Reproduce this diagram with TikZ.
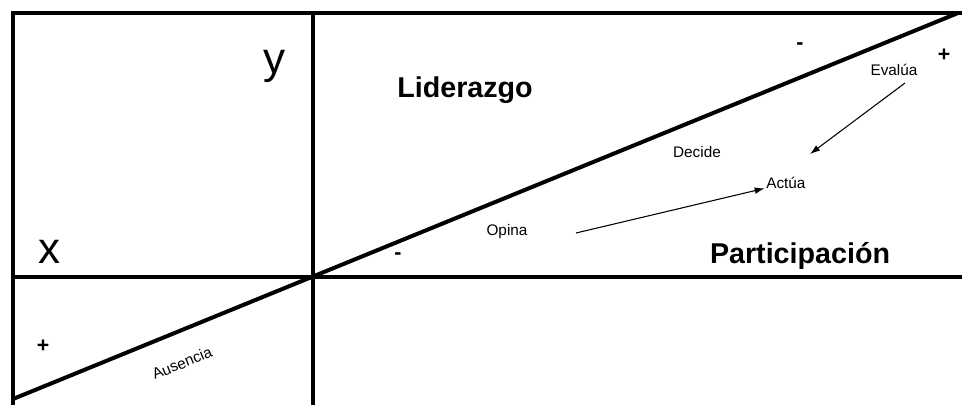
\documentclass[tikz,border=0pt]{standalone}
\usepackage{fontspec}
\setmainfont{Liberation Sans}
\usetikzlibrary{arrows.meta}
\begin{document}
\begin{tikzpicture}[x = 0.75pt, y = -0.75pt,
		axis/.style = {line width = 3pt},
		flow/.style = {line width = 0.8pt, -{Latex[length = 7.5pt, width = 5pt]}},
		small/.style = {inner sep = 0pt, font = \fontsize{11.5}{13}\selectfont},
		title/.style = {inner sep = 0pt, anchor = base, font = \fontsize{21.5}{25}\selectfont\bfseries},
		sign/.style = {inner sep = 0pt, font = \fontsize{16}{18}\selectfont\bfseries},
		letter/.style = {inner sep = 0pt, anchor = base, font = \fontsize{33}{38}\selectfont}]
		\useasboundingbox (0,0) rectangle (962,405);
		\draw [axis] (13,405) -- (13,13) -- (962,13);
		\draw [axis] (313,13) -- (313,405);
		\draw [axis] (13,277) -- (962,277);
		\draw [axis] (13,399) -- (958,13);
		\node [letter] (ejex) at (49,263) {x};
		\node [letter] (ejey) at (274,73) {y};
		\node [title] (liderazgo) at (465,97) {Liderazgo};
		\node [title] (participacion) at (800,263) {Participación};
		\node [small, anchor = base] (opina) at (507,235) {Opina};
		\node [small, anchor = base] (decide) at (697,157) {Decide};
		\node [small, anchor = base west] (actua) at (766,188) {Actúa};
		\node [small, anchor = base] (evalua) at (894,75) {Evalúa};
		\node [small, rotate = 22] (ausencia) at (182,363) {Ausencia};
		\node [sign] (menosa) at (398,256) {-};
		\node [sign] (menosb) at (800,46) {-};
		\node [sign] (masa) at (944,55) {+};
		\node [sign] (masb) at (43,346) {+};
		\coordinate (opinacola) at (576,233);
		\coordinate (evaluacola) at (905,83);
		\coordinate (evaluapunta) at (810,154);
		\draw [flow, shorten > = 1pt] (opinacola) -- (actua.base west);
		\draw [flow] (evaluacola) -- (evaluapunta);
	\end{tikzpicture}
\end{document}
